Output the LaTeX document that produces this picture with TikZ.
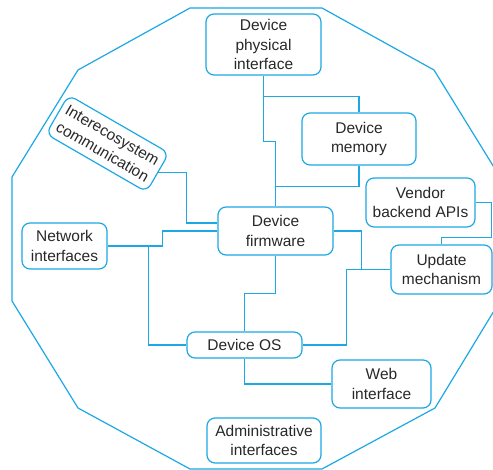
\documentclass[tikz,border=0pt]{standalone}
\usepackage{fontspec}
\setmainfont{Liberation Sans}
\usepackage{tikz}
\usepackage{xcolor}
\usetikzlibrary{positioning, calc}
\definecolor{cLine}{RGB}{28,168,228}
\definecolor{cText}{RGB}{40,40,40}
\tikzset{
	blk/.style ={rectangle, rounded corners=8pt, draw=cLine, line width=1.2pt, align=center, inner sep=0pt, text=cText, font=\fontsize{15.5}{19.3}\selectfont},
	link/.style={draw=cLine, line width=1.2pt},
	hull/.style={draw=cLine, line width=1.2pt},
}
\begin{document}
\begin{tikzpicture}[x=1pt, y=-1pt]
			\clip (0,0) rectangle (493,470);
			% outer boundary
			\draw[hull] (190,8) -- (322,8) -- (434,70) -- (500,177) -- (500,301) -- (435,408) -- (322,469) -- (190,469) -- (78,408) -- (12,301) -- (12,177) -- (78,70) -- cycle;
			% boxes
			\node[blk, minimum width=115pt, minimum height=61pt] (phys) at (263.5,44.5) {Device\\ physical\\ interface};
			\node[blk, minimum width=114pt, minimum height=52pt] (mem) at (359,139) {Device\\ memory};
			\node[blk, minimum width=109pt, minimum height=49pt] (vendor) at (420.5,202.5) {Vendor\\ backend APIs};
			\node[blk, minimum width=115pt, minimum height=48pt] (fw) at (275.5,231) {Device\\ firmware};
			\node[blk, minimum width=116pt, minimum height=45pt, rotate=-30] (inter) at (107.5,143.5) {Interecosystem\\ communication};
			\node[blk, minimum width=85pt, minimum height=46pt] (net) at (64.5,246) {Network\\ interfaces};
			\node[blk, minimum width=101pt, minimum height=49pt] (upd) at (441.5,269.5) {Update\\ mechanism};
			\node[blk, minimum width=115pt, minimum height=26pt] (os) at (244.5,345) {Device OS};
			\node[blk, minimum width=99pt, minimum height=48pt] (web) at (381.5,384) {Web\\ interface};
			\node[blk, minimum width=114pt, minimum height=45pt] (admin) at (264,440.5) {Administrative\\ interfaces};
			% connectors
			\coordinate (fwin) at ($(fw.west)+(0,-8)$);
			\coordinate (updin) at ($(upd.north)+(0,-7)$);
			\draw[link] (phys.south) -- ++(0,66) -| (fw.north);
			\draw[link] (phys.south) ++(0,21) -| (mem.north);
			\draw[link] (mem.south) -- ++(0,21) -| (fw.north);
			\draw[link] (inter.east) -| ($(fwin)+(-31,0)$) -- (fwin);
			\draw[link] (net.east) -- ++(55,0) |- (fw.west);
			\draw[link] (net.east) ++(41,0) |- (os.west);
			\draw[link] (fw.south) -- ++(0,38) -| (os.north);
			\draw[link] (os.south) |- (web.west);
			\draw[link] (os.east) -- ++(44,0) |- (upd.west);
			\draw[link] (fw.east) -- ++(28,0) |- (upd.west);
			\draw[link] (vendor.east) -- ++(16,0) |- (updin) -- (upd.north);
		\end{tikzpicture}
\end{document}
